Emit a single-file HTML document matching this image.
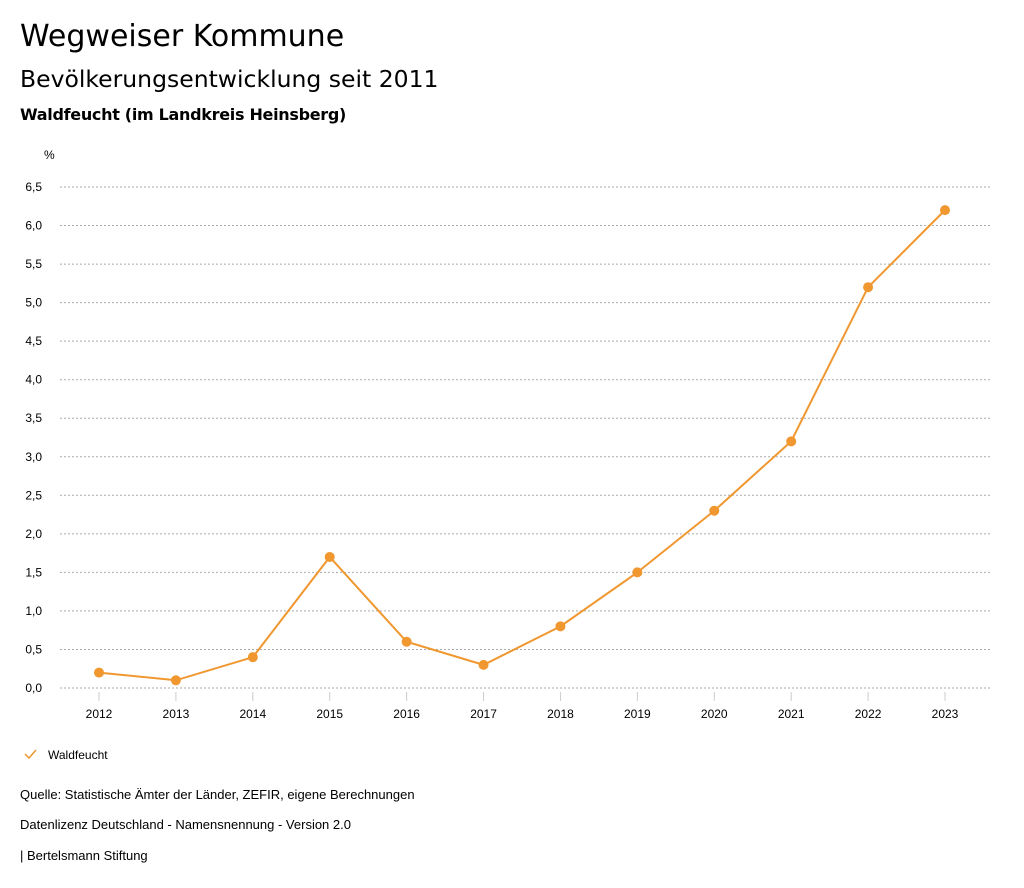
<!DOCTYPE html>
<html><head><meta charset="utf-8"><style>
body{margin:0;background:#fff;font-family:"Liberation Sans","DejaVu Sans",sans-serif;color:#000}
.t{position:absolute;left:20px;white-space:nowrap}
.d{font-family:"DejaVu Sans",sans-serif}
</style></head><body>
<div style="position:relative;width:1024px;height:888px">
<div class="t d" style="top:19px;font-size:30px">Wegweiser Kommune</div>
<div class="t d" style="top:65px;font-size:23.5px">Bevölkerungsentwicklung seit 2011</div>
<div class="t d" style="top:105px;font-size:16px;font-weight:bold;letter-spacing:-0.3px">Waldfeucht (im Landkreis Heinsberg)</div>
<svg id="c" width="1024" height="888" style="position:absolute;left:0;top:0"></svg>
<div class="t" style="top:787px;font-size:13px">Quelle: Statistische Ämter der Länder, ZEFIR, eigene Berechnungen</div>
<div class="t" style="top:817px;font-size:13px">Datenlizenz Deutschland - Namensnennung - Version 2.0</div>
<div class="t" style="top:848px;font-size:13px">| Bertelsmann Stiftung</div>
</div>
<script>
const years=["2012","2013","2014","2015","2016","2017","2018","2019","2020","2021","2022","2023"];
const values=[0.2,0.1,0.4,1.7,0.6,0.3,0.8,1.5,2.3,3.2,5.2,6.2];
const yTicks=[0,0.5,1,1.5,2,2.5,3,3.5,4,4.5,5,5.5,6,6.5];
const seriesName="Waldfeucht";
const NS="http://www.w3.org/2000/svg",svg=document.getElementById('c');
const col="#f0972f";
function y(v){return 688-v*(501/6.5);}
function x(i){return 99+i*(846/(years.length-1));}
function mk(t,a,p){const e=document.createElementNS(NS,t);for(const k in a)e.setAttribute(k,a[k]);(p||svg).appendChild(e);return e;}
const u=mk('text',{x:44,y:159,'font-size':12});u.textContent='%';


yTicks.forEach(v=>{
 const l=mk('line',{x1:60,x2:990,y1:y(v),y2:y(v),stroke:'#aaa','stroke-dasharray':'2,2'});
 
 
 const t=mk('text',{x:42,y:y(v)+4,'font-size':12,'text-anchor':'end'});t.textContent=v.toFixed(1).replace('.',',');
 
 
});
years.forEach((yr,i)=>{
 mk('line',{x1:x(i),x2:x(i),y1:692,y2:701,stroke:'#ccc'});
 const t=mk('text',{x:x(i),y:718,'font-size':12,'text-anchor':'middle'});t.textContent=yr;
 
 
});
const p=mk('polyline',{points:values.map((v,i)=>x(i)+','+y(v)).join(' '),fill:'none',stroke:col,'stroke-width':2});


values.forEach((v,i)=>{const c=mk('circle',{cx:x(i),cy:y(v),r:5,fill:col});
 
 });
const lg=mk('polyline',{points:'25,754 29,758 36,750',fill:'none',stroke:col,'stroke-width':1.5});


const lt=mk('text',{x:48,y:759,'font-size':12});lt.textContent=seriesName;


</script>
</body></html>
